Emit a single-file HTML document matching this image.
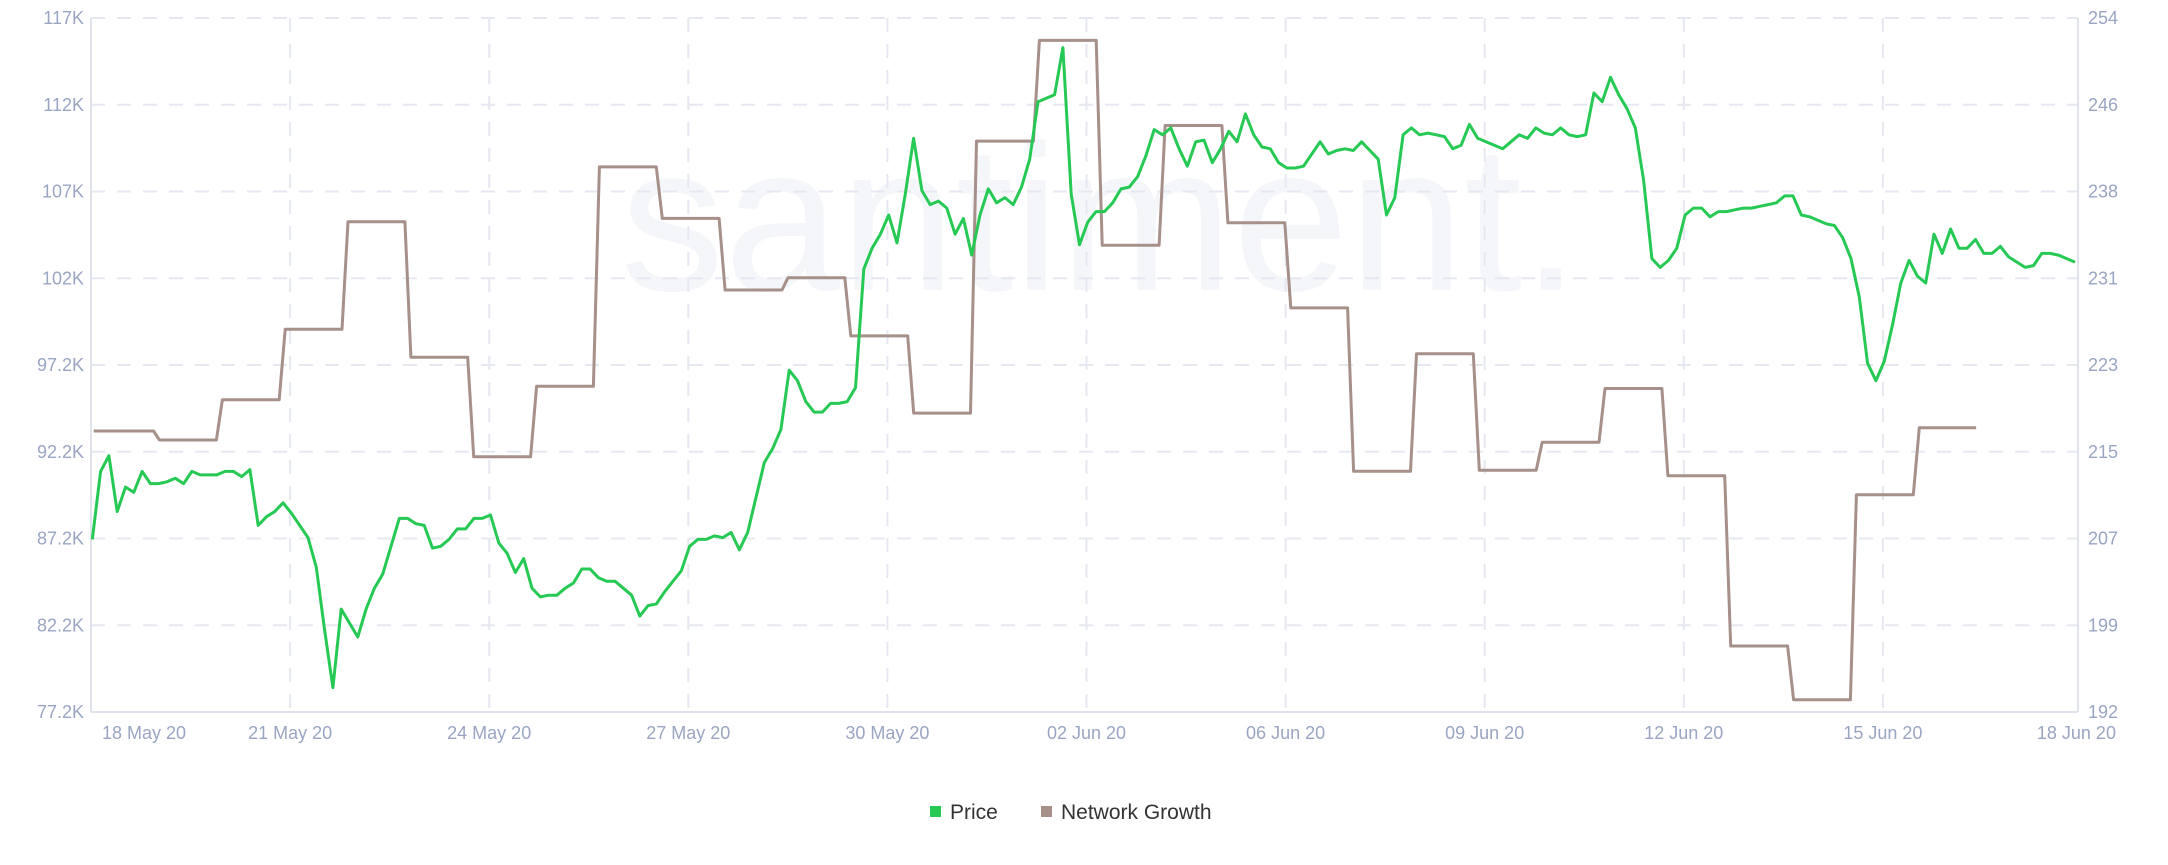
<!DOCTYPE html>
<html><head><meta charset="utf-8"><style>
html,body{margin:0;padding:0;background:#fff;}
svg text{font-family:"Liberation Sans",sans-serif;}
</style></head><body>
<svg id="chart" width="2168" height="860" viewBox="0 0 2168 860" xmlns="http://www.w3.org/2000/svg">
<text x="1100" y="290" font-size="208" fill="#f5f6f9" text-anchor="middle">santiment.</text>
<g id="grid"></g>
<g id="axes"></g>
<g id="series"></g>
<g>
<rect x="930" y="806" width="11" height="11" fill="#26c953"></rect>
<text x="950" y="819" font-size="21" fill="#333">Price</text>
<rect x="1041" y="806" width="11" height="11" fill="#a69089"></rect>
<text x="1061" y="819" font-size="21" fill="#333">Network Growth</text>
</g>
</svg>
<script>
const leftTicks=["117K","112K","107K","102K","97.2K","92.2K","87.2K","82.2K","77.2K"];
const rightTicks=["254","246","238","231","223","215","207","199","192"];
const xTickDays=[0,3,6,9,12,15,18,21,24,27,30];
const xTickLabels=["18 May 20","21 May 20","24 May 20","27 May 20","30 May 20","02 Jun 20","06 Jun 20","09 Jun 20","12 Jun 20","15 Jun 20","18 Jun 20"];
const priceStart=0.02, priceStep=0.125;
const priceValues=[87.1,91.0,91.9,88.7,90.1,89.8,91.0,90.3,90.3,90.4,90.6,90.3,91.0,90.8,90.8,90.8,91.0,91.0,90.7,91.1,
87.9,88.4,88.7,89.2,88.6,87.9,87.2,85.5,81.9,78.6,83.1,82.3,81.5,83.1,84.3,85.1,86.7,88.3,88.3,88.0,
87.9,86.6,86.7,87.1,87.7,87.7,88.3,88.3,88.5,86.9,86.3,85.2,86.0,84.3,83.8,83.9,83.9,84.3,84.6,85.4,
85.4,84.9,84.7,84.7,84.3,83.9,82.7,83.3,83.4,84.1,84.7,85.3,86.7,87.1,87.1,87.3,87.2,87.5,86.5,87.5,
89.5,91.5,92.3,93.4,96.8,96.2,95.0,94.4,94.4,94.9,94.9,95.0,95.8,102.6,103.8,104.6,105.7,104.1,106.9,110.1,
107.1,106.3,106.5,106.1,104.6,105.5,103.4,105.7,107.2,106.4,106.7,106.3,107.3,108.9,112.2,112.4,112.6,115.3,106.9,104.0,
105.3,105.9,105.9,106.4,107.2,107.3,107.9,109.1,110.6,110.3,110.7,109.5,108.5,109.9,110.0,108.7,109.5,110.5,109.9,111.5,
110.3,109.6,109.5,108.7,108.4,108.4,108.5,109.2,109.9,109.2,109.4,109.5,109.4,109.9,109.4,108.9,105.7,106.7,110.3,110.7,
110.3,110.4,110.3,110.2,109.5,109.7,110.9,110.1,109.9,109.7,109.5,109.9,110.3,110.1,110.7,110.4,110.3,110.7,110.3,110.2,
110.3,112.7,112.2,113.6,112.6,111.8,110.7,107.7,103.2,102.7,103.1,103.8,105.7,106.1,106.1,105.6,105.9,105.9,106.0,106.1,
106.1,106.2,106.3,106.4,106.8,106.8,105.7,105.6,105.4,105.2,105.1,104.4,103.2,101.0,97.2,96.2,97.3,99.4,101.8,103.1,
102.2,101.8,104.6,103.5,104.9,103.8,103.8,104.3,103.5,103.5,103.9,103.3,103.0,102.7,102.8,103.5,103.5,103.4,103.2,103.0];
const netStart=0.04, netStep=0.947;
const netValues=[217.1,216.3,219.9,226.2,235.8,223.7,214.8,221.1,240.7,236.1,229.7,230.8,225.6,218.7,243.0,
252.0,233.7,244.4,235.7,228.1,213.5,224.0,213.6,216.1,220.9,213.1,197.9,193.1,211.4,217.4];

const L=91,R=2078,T=18,B=712,dayMax=29.94;
const xS=d=>L+d*(R-L)/dayMax;
const yP=v=>B-(v-77.2)/(117-77.2)*(B-T);
const yN=v=>B-(v-192)/(254-192)*(B-T);
const NS="http://www.w3.org/2000/svg";
function mk(tag,attrs,parent){const e=document.createElementNS(NS,tag);for(const k in attrs)e.setAttribute(k,attrs[k]);parent.appendChild(e);return e;}
const grid=document.getElementById('grid'),axes=document.getElementById('axes'),series=document.getElementById('series');
leftTicks.forEach((t,i)=>{
  const y=T+i*(B-T)/(leftTicks.length-1);
  if(i<leftTicks.length-1){const g=mk('line',{x1:L,x2:R,y1:y,y2:y,stroke:'#e6e8f1','stroke-width':2,'stroke-dasharray':'14 12'},grid);
  
  }
  const a=mk('text',{x:84,y:y+6,'font-size':18,fill:'#9aa5c3','text-anchor':'end'},axes);a.textContent=t;
  
  
  const b=mk('text',{x:2088,y:y+6,'font-size':18,fill:'#9aa5c3'},axes);b.textContent=rightTicks[i];
  
  
});
xTickDays.forEach((d,i)=>{
  const x=xS(d);
  if(i>0&&i<xTickDays.length-1){const g=mk('line',{x1:x,x2:x,y1:T,y2:B,stroke:'#e6e8f1','stroke-width':2,'stroke-dasharray':'14 12'},grid);
  
  }
  let anchor='middle',tx=x;
  if(i===0){anchor='start';tx=x+11;}
  if(i===xTickDays.length-1){anchor='end';tx=x+34;}
  const t=mk('text',{x:tx,y:739,'font-size':18,fill:'#9aa5c3','text-anchor':anchor},axes);t.textContent=xTickLabels[i];
  
  
});
[[L,T,L,B],[R,T,R,B],[L,B,R,B]].forEach(c=>{const l=mk('line',{x1:c[0],y1:c[1],x2:c[2],y2:c[3],stroke:'#e0e3ec','stroke-width':2},axes);

});
let np='';
netValues.forEach((v,i)=>{
  const x0=xS(netStart+i*netStep),x1=xS(netStart+(i+1)*netStep)-3,y=yN(v);
  np+=(i===0?'M':'L')+(x0+(i===0?0:3)).toFixed(1)+','+y.toFixed(1)+'L'+x1.toFixed(1)+','+y.toFixed(1);
});
const nl=mk('path',{d:np,fill:'none',stroke:'#a69089','stroke-width':3,'stroke-linejoin':'round'},series);


let pp='';
priceValues.forEach((v,i)=>{pp+=(i===0?'M':'L')+xS(priceStart+i*priceStep).toFixed(1)+','+yP(v).toFixed(1);});
const pl=mk('path',{d:pp,fill:'none',stroke:'#26c953','stroke-width':3,'stroke-linejoin':'round'},series);


</script>
</body></html>
